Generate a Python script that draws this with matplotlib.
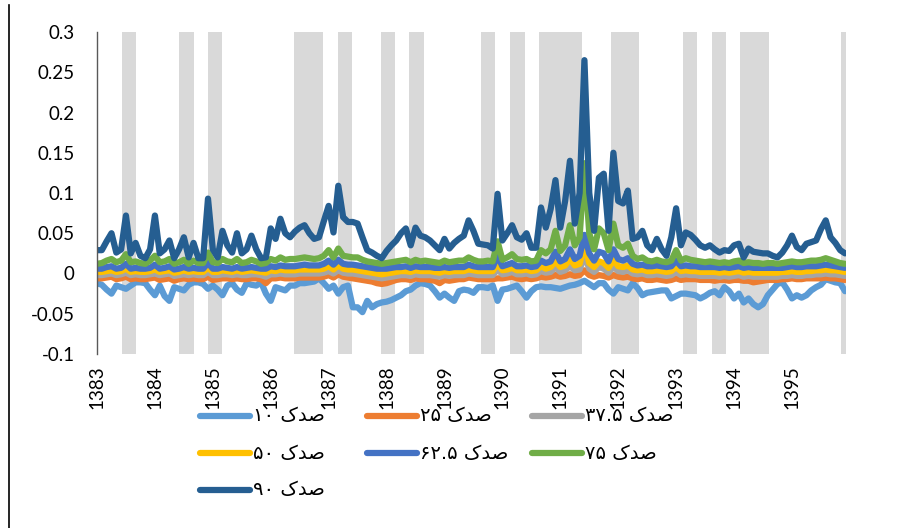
import matplotlib.pyplot as plt
from matplotlib.lines import Line2D

# monthly series, 1383/01 .. 1395/12 (156 months)
p10 = [-0.012, -0.014, -0.020, -0.025, -0.015, -0.017, -0.019, -0.015, -0.011, -0.011,
       -0.012, -0.020, -0.027, -0.015, -0.028, -0.034, -0.017, -0.019, -0.021, -0.014,
       -0.011, -0.011, -0.013, -0.019, -0.015, -0.020, -0.027, -0.015, -0.012, -0.020,
       -0.024, -0.012, -0.014, -0.015, -0.011, -0.025, -0.034, -0.017, -0.019, -0.021,
       -0.015, -0.015, -0.012, -0.012, -0.011, -0.010, -0.006, -0.012, -0.019, -0.015,
       -0.025, -0.017, -0.015, -0.042, -0.042, -0.048, -0.034, -0.042, -0.038, -0.036,
       -0.035, -0.033, -0.030, -0.027, -0.022, -0.020, -0.015, -0.012, -0.013, -0.015,
       -0.022, -0.030, -0.025, -0.030, -0.034, -0.022, -0.020, -0.021, -0.024, -0.017,
       -0.017, -0.018, -0.015, -0.034, -0.020, -0.019, -0.017, -0.015, -0.022, -0.030,
       -0.022, -0.017, -0.016, -0.017, -0.017, -0.018, -0.019, -0.017, -0.015, -0.014,
       -0.012, -0.009, -0.013, -0.017, -0.012, -0.012, -0.020, -0.025, -0.017, -0.019,
       -0.021, -0.012, -0.018, -0.027, -0.024, -0.023, -0.022, -0.021, -0.021, -0.031,
       -0.028, -0.025, -0.025, -0.026, -0.027, -0.031, -0.028, -0.024, -0.022, -0.027,
       -0.017, -0.022, -0.031, -0.025, -0.036, -0.031, -0.038, -0.042, -0.038, -0.027,
       -0.020, -0.013, -0.011, -0.020, -0.031, -0.027, -0.030, -0.027, -0.021, -0.017,
       -0.014, -0.007, -0.009, -0.011, -0.012, -0.022]
p25 = [-0.006, -0.006, -0.005, -0.004, -0.007, -0.006, -0.004, -0.007, -0.006, -0.007,
       -0.007, -0.006, -0.005, -0.008, -0.007, -0.006, -0.009, -0.007, -0.006, -0.007,
       -0.006, -0.007, -0.007, -0.004, -0.008, -0.007, -0.006, -0.006, -0.007, -0.006,
       -0.007, -0.007, -0.006, -0.006, -0.007, -0.012, -0.006, -0.006, -0.005, -0.006,
       -0.006, -0.006, -0.005, -0.005, -0.005, -0.005, -0.005, -0.004, -0.002, -0.005,
       -0.001, -0.004, -0.005, -0.006, -0.007, -0.008, -0.009, -0.010, -0.012, -0.013,
       -0.012, -0.010, -0.008, -0.007, -0.007, -0.008, -0.006, -0.007, -0.007, -0.008,
       -0.009, -0.012, -0.008, -0.009, -0.008, -0.007, -0.007, -0.005, -0.006, -0.007,
       -0.007, -0.007, -0.007, -0.006, -0.006, -0.005, -0.004, -0.006, -0.007, -0.006,
       -0.007, -0.006, -0.004, -0.005, -0.004, -0.002, -0.004, -0.003, -0.001, -0.003,
       -0.002, 0.004, -0.002, -0.004, -0.002, -0.003, -0.005, -0.002, -0.004, -0.005,
       -0.004, -0.006, -0.007, -0.006, -0.008, -0.008, -0.007, -0.008, -0.009, -0.008,
       -0.006, -0.008, -0.007, -0.007, -0.007, -0.008, -0.008, -0.008, -0.009, -0.008,
       -0.008, -0.009, -0.008, -0.008, -0.009, -0.009, -0.011, -0.010, -0.009, -0.008,
       -0.008, -0.008, -0.007, -0.007, -0.006, -0.007, -0.007, -0.006, -0.006, -0.006,
       -0.006, -0.005, -0.006, -0.006, -0.007, -0.008]
p375 = [-0.002, -0.002, -0.001, 0.000, -0.002, -0.001, 0.001, -0.002, -0.001, -0.002,
        -0.002, -0.001, 0.000, -0.002, -0.001, 0.000, -0.003, -0.002, -0.001, -0.002,
        -0.001, -0.002, -0.002, 0.002, -0.002, -0.002, -0.001, -0.001, -0.002, -0.001,
        -0.002, -0.002, -0.001, -0.001, -0.002, -0.004, -0.001, -0.001, 0.000, -0.001,
        -0.001, -0.001, 0.000, 0.000, 0.000, 0.000, 0.000, 0.001, 0.003, 0.000,
        0.004, 0.001, 0.000, 0.000, -0.001, -0.002, -0.003, -0.004, -0.005, -0.006,
        -0.005, -0.004, -0.003, -0.002, -0.002, -0.003, -0.001, -0.002, -0.002, -0.002,
        -0.003, -0.004, -0.002, -0.003, -0.002, -0.002, -0.002, 0.000, -0.001, -0.002,
        -0.002, -0.002, -0.002, 0.005, -0.001, 0.000, 0.002, -0.001, -0.001, 0.000,
        -0.002, -0.001, 0.003, 0.001, 0.002, 0.008, 0.002, 0.004, 0.010, 0.004,
        0.005, 0.022, 0.006, 0.002, 0.008, 0.006, 0.001, 0.009, 0.003, 0.002,
        0.004, 0.000, -0.001, 0.000, -0.002, -0.002, -0.001, -0.002, -0.003, -0.002,
        0.002, -0.002, -0.001, -0.002, -0.002, -0.003, -0.003, -0.003, -0.003, -0.004,
        -0.003, -0.004, -0.003, -0.002, -0.004, -0.003, -0.004, -0.004, -0.004, -0.004,
        -0.004, -0.004, -0.003, -0.003, -0.002, -0.003, -0.003, -0.002, -0.002, -0.001,
        -0.001, 0.000, -0.001, -0.001, -0.002, -0.003]
p50 = [0.002, 0.002, 0.003, 0.004, 0.002, 0.003, 0.006, 0.002, 0.003, 0.002,
       0.002, 0.003, 0.005, 0.002, 0.003, 0.004, 0.001, 0.002, 0.004, 0.002,
       0.003, 0.002, 0.002, 0.007, 0.002, 0.002, 0.004, 0.003, 0.002, 0.004,
       0.002, 0.003, 0.004, 0.003, 0.002, 0.001, 0.004, 0.003, 0.005, 0.004,
       0.004, 0.004, 0.005, 0.005, 0.005, 0.005, 0.005, 0.006, 0.009, 0.005,
       0.010, 0.006, 0.005, 0.005, 0.004, 0.003, 0.002, 0.001, 0.000, -0.001,
       0.000, 0.001, 0.002, 0.003, 0.003, 0.002, 0.004, 0.003, 0.003, 0.003,
       0.002, 0.001, 0.003, 0.002, 0.003, 0.003, 0.003, 0.005, 0.004, 0.003,
       0.003, 0.003, 0.003, 0.012, 0.004, 0.005, 0.007, 0.004, 0.004, 0.005,
       0.003, 0.004, 0.009, 0.006, 0.008, 0.015, 0.008, 0.010, 0.018, 0.010,
       0.012, 0.035, 0.013, 0.008, 0.015, 0.013, 0.007, 0.017, 0.009, 0.008,
       0.010, 0.005, 0.004, 0.005, 0.003, 0.003, 0.004, 0.003, 0.002, 0.003,
       0.008, 0.003, 0.004, 0.003, 0.003, 0.002, 0.002, 0.002, 0.002, 0.001,
       0.002, 0.001, 0.002, 0.003, 0.001, 0.002, 0.001, 0.001, 0.001, 0.001,
       0.001, 0.001, 0.002, 0.002, 0.003, 0.002, 0.002, 0.003, 0.003, 0.004,
       0.004, 0.005, 0.004, 0.004, 0.003, 0.002]
p625 = [0.006, 0.006, 0.008, 0.009, 0.006, 0.007, 0.012, 0.006, 0.007, 0.006,
        0.006, 0.007, 0.011, 0.006, 0.007, 0.009, 0.005, 0.006, 0.008, 0.006,
        0.007, 0.006, 0.006, 0.013, 0.006, 0.006, 0.008, 0.007, 0.006, 0.008,
        0.006, 0.007, 0.008, 0.007, 0.006, 0.006, 0.009, 0.008, 0.010, 0.009,
        0.009, 0.009, 0.010, 0.011, 0.010, 0.010, 0.010, 0.012, 0.016, 0.011,
        0.017, 0.012, 0.011, 0.011, 0.010, 0.009, 0.008, 0.007, 0.006, 0.006,
        0.006, 0.007, 0.008, 0.008, 0.009, 0.007, 0.009, 0.008, 0.008, 0.008,
        0.007, 0.007, 0.008, 0.007, 0.008, 0.008, 0.008, 0.011, 0.009, 0.008,
        0.008, 0.008, 0.008, 0.022, 0.009, 0.011, 0.013, 0.009, 0.009, 0.010,
        0.008, 0.009, 0.016, 0.013, 0.015, 0.027, 0.015, 0.018, 0.030, 0.018,
        0.022, 0.048, 0.025, 0.016, 0.027, 0.025, 0.015, 0.030, 0.018, 0.016,
        0.019, 0.012, 0.010, 0.011, 0.009, 0.009, 0.010, 0.009, 0.008, 0.009,
        0.016, 0.009, 0.010, 0.009, 0.009, 0.008, 0.008, 0.008, 0.008, 0.007,
        0.008, 0.007, 0.008, 0.009, 0.007, 0.008, 0.007, 0.007, 0.007, 0.007,
        0.007, 0.007, 0.007, 0.008, 0.009, 0.008, 0.008, 0.009, 0.009, 0.009,
        0.010, 0.011, 0.010, 0.009, 0.008, 0.007]
p75 = [0.012, 0.013, 0.016, 0.018, 0.014, 0.016, 0.024, 0.014, 0.015, 0.013,
       0.012, 0.016, 0.022, 0.014, 0.015, 0.018, 0.012, 0.014, 0.017, 0.012,
       0.016, 0.013, 0.013, 0.026, 0.014, 0.013, 0.018, 0.015, 0.014, 0.018,
       0.013, 0.014, 0.017, 0.015, 0.012, 0.013, 0.018, 0.016, 0.020, 0.017,
       0.018, 0.018, 0.019, 0.020, 0.019, 0.018, 0.019, 0.022, 0.029, 0.020,
       0.031, 0.022, 0.021, 0.020, 0.020, 0.017, 0.015, 0.014, 0.013, 0.012,
       0.013, 0.014, 0.015, 0.016, 0.017, 0.014, 0.017, 0.015, 0.016, 0.015,
       0.014, 0.013, 0.016, 0.014, 0.015, 0.016, 0.016, 0.020, 0.017, 0.015,
       0.015, 0.016, 0.015, 0.040, 0.017, 0.020, 0.024, 0.018, 0.017, 0.018,
       0.015, 0.016, 0.029, 0.025, 0.030, 0.053, 0.028, 0.035, 0.060, 0.035,
       0.045, 0.137, 0.050, 0.030, 0.056, 0.050, 0.029, 0.062, 0.035, 0.032,
       0.037, 0.022, 0.018, 0.020, 0.016, 0.015, 0.017, 0.015, 0.014, 0.016,
       0.029, 0.016, 0.019, 0.017, 0.016, 0.015, 0.014, 0.015, 0.014, 0.013,
       0.014, 0.013, 0.015, 0.016, 0.013, 0.014, 0.013, 0.013, 0.012, 0.013,
       0.013, 0.012, 0.013, 0.014, 0.015, 0.014, 0.014, 0.015, 0.016, 0.016,
       0.017, 0.019, 0.017, 0.015, 0.013, 0.012]
p90 = [0.029, 0.029, 0.040, 0.050, 0.026, 0.030, 0.072, 0.025, 0.038, 0.022,
       0.019, 0.030, 0.072, 0.025, 0.030, 0.041, 0.019, 0.030, 0.045, 0.020,
       0.038, 0.019, 0.019, 0.093, 0.030, 0.020, 0.053, 0.035, 0.026, 0.050,
       0.025, 0.030, 0.047, 0.030, 0.019, 0.020, 0.056, 0.043, 0.068, 0.050,
       0.045, 0.052, 0.057, 0.060, 0.050, 0.043, 0.045, 0.065, 0.084, 0.051,
       0.109, 0.070, 0.064, 0.064, 0.062, 0.045, 0.029, 0.026, 0.022, 0.019,
       0.028, 0.035, 0.041, 0.050, 0.056, 0.035, 0.057, 0.047, 0.045, 0.041,
       0.035, 0.029, 0.043, 0.031, 0.038, 0.043, 0.047, 0.066, 0.053, 0.037,
       0.036, 0.035, 0.031, 0.099, 0.041, 0.050, 0.060, 0.045, 0.042, 0.050,
       0.032, 0.032, 0.082, 0.057, 0.080, 0.116, 0.057, 0.090, 0.140, 0.062,
       0.100, 0.265, 0.100, 0.053, 0.119, 0.124, 0.053, 0.150, 0.090, 0.087,
       0.103, 0.043, 0.045, 0.053, 0.035, 0.029, 0.043, 0.030, 0.022, 0.045,
       0.081, 0.035, 0.051, 0.048, 0.042, 0.035, 0.032, 0.035, 0.030, 0.026,
       0.029, 0.028, 0.035, 0.037, 0.020, 0.031, 0.027, 0.026, 0.025, 0.025,
       0.022, 0.020, 0.026, 0.035, 0.047, 0.033, 0.029, 0.037, 0.039, 0.041,
       0.055, 0.066, 0.045, 0.038, 0.029, 0.025]

series = [p10, p25, p375, p50, p625, p75, p90]
labels = ['صدک ۱۰', 'صدک ۲۵', 'صدک ۳۷.۵', 'صدک ۵۰', 'صدک ۶۲.۵', 'صدک ۷۵', 'صدک ۹۰']
colors = ['#5B9BD5', '#ED7D31', '#A5A5A5', '#FFC000', '#4472C4', '#70AD47', '#255E91']

years = list(range(1383, 1396))
# shaded periods, in month index from 1383/01
shade_start = [5.2, 17.0, 23.0, 40.8, 49.9, 58.8, 64.6, 79.6, 85.6, 91.6, 106.5, 121.4, 127.4, 133.2, 154.2]
shade_end = [8.1, 20.1, 25.9, 46.8, 52.8, 61.7, 67.8, 82.5, 88.7, 100.5, 112.3, 124.3, 130.3, 139.2, 155.4]


def visual(label):
    # matplotlib has no bidi/shaping: write the word in presentation forms, right-to-left
    word, num = label.split(' ')
    forms = {'ص': '\uFEBB', 'د': '\uFEAA', 'ک': '\uFB8E'}
    return num + ' ' + ''.join(forms[c] for c in reversed(word))


W, H = 906, 528
fig = plt.figure(figsize=(W / 100, H / 100), dpi=100)
ax = fig.add_axes([97 / W, 1 - 354 / H, (846 - 97) / W, 322 / H])

for s, e in zip(shade_start, shade_end):
    ax.axvspan(s, e, color='#D9D9D9', lw=0, zorder=0)

months = list(range(len(p90)))
for vals, col in zip(series, colors):
    ax.plot(months, vals, color=col, lw=4.5, solid_joinstyle='round',
            solid_capstyle='round', zorder=2)

ax.set_xlim(0, 155.2)
ax.set_ylim(-0.1, 0.3)
ax.set_yticks([-0.1, -0.05, 0, 0.05, 0.1, 0.15, 0.2, 0.25, 0.3])
ax.set_yticklabels(['-0.1', '-0.05', '0', '0.05', '0.1', '0.15', '0.2', '0.25', '0.3'])
ax.set_xticks([12 * k for k in range(len(years))])
ax.set_xticklabels([str(y) for y in years], rotation=90)
ax.tick_params(axis='both', length=0, labelsize=13.5, colors='black')
ax.tick_params(axis='y', pad=16)
ax.tick_params(axis='x', pad=8)
for lab in ax.get_xticklabels() + ax.get_yticklabels():
    lab.set_fontfamily('Lato')
for side in ['top', 'right', 'bottom']:
    ax.spines[side].set_visible(False)
ax.spines['left'].set_color('#595959')
ax.spines['left'].set_linewidth(1.0)

# legend below the chart, 3 entries per row
col_x = [200, 367, 532]
row_y = [416, 453, 490]
for k, (lab, col) in enumerate(zip(labels, colors)):
    x0 = col_x[k % 3]
    y0 = row_y[k // 3]
    fig.add_artist(Line2D([x0 / W, (x0 + 50) / W], [1 - y0 / H, 1 - y0 / H],
                          color=col, lw=4.5, solid_capstyle='round'))
    fig.text((x0 + 53) / W, 1 - y0 / H, visual(lab), ha='left', va='center',
             fontsize=14, family=['DejaVu Sans'], color='black')

# page border line on the left
fig.add_artist(Line2D([8.5 / W, 8.5 / W], [0, 1 - 5 / H], color='black', lw=1.2))

fig.savefig('out.png', dpi=100)
